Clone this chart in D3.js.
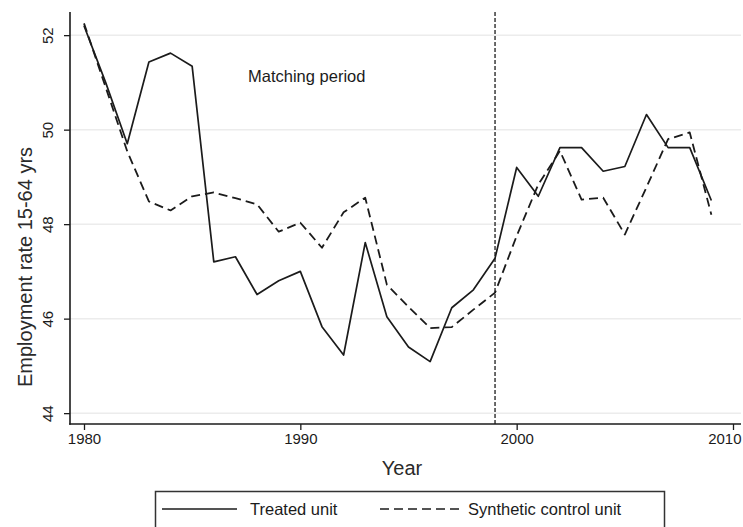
<!DOCTYPE html>
<html>
<head>
<meta charset="utf-8">
<script src="https://cdn.jsdelivr.net/npm/d3@7"></script>
<style>
  html, body { margin: 0; padding: 0; background: #fff; }
  svg { display: block; font-family: "Liberation Sans", Arial, sans-serif; }
</style>
</head>
<body>
<svg id="chart" width="743" height="527"></svg>
<script>
// Employment rate, treated unit vs. synthetic control, 1980-2009
const years = [1980, 1981, 1982, 1983, 1984, 1985, 1986, 1987, 1988, 1989,
               1990, 1991, 1992, 1993, 1994, 1995, 1996, 1997, 1998, 1999,
               2000, 2001, 2002, 2003, 2004, 2005, 2006, 2007, 2008, 2009];
const treated = [52.2, 51.0, 49.7, 51.43, 51.62, 51.34, 47.2, 47.31, 46.51, 46.8,
                 47.0, 45.83, 45.23, 47.61, 46.04, 45.4, 45.09, 46.23, 46.61, 47.28,
                 49.2, 48.59, 49.62, 49.62, 49.12, 49.22, 50.32, 49.62, 49.62, 48.5];
const synthetic = [52.25, 50.9, 49.54, 48.48, 48.29, 48.59, 48.67, 48.55, 48.42, 47.84,
                   48.03, 47.5, 48.25, 48.56, 46.72, 46.25, 45.8, 45.82, 46.19, 46.55,
                   47.75, 48.84, 49.55, 48.52, 48.56, 47.78, 48.78, 49.8, 49.94, 48.2];
const xTicks = [1980, 1990, 2000, 2010];
const yTicks = [44, 46, 48, 50, 52];
const treatmentYear = 1999;
const legendLabels = ["Treated unit", "Synthetic control unit"];

const svg = d3.select("#chart");
const ink = "#1b1b1b";

const x = d3.scaleLinear().domain([1980, 2010]).range([84, 733]);
const y = d3.scaleLinear().domain([43.77, 52.49]).range([424, 12]);
const plotLeft = 70, plotRight = 741, plotTop = 12, plotBottom = 424;

// light horizontal grid
svg.append("g")
  .selectAll("line")
  .data(yTicks)
  .join("line")
  .attr("x1", plotLeft).attr("x2", plotRight)
  .attr("y1", d => y(d)).attr("y2", d => y(d))
  .attr("stroke", "#ececec").attr("stroke-width", 1.5);

// y axis
const yAxis = svg.append("g")
  .attr("transform", `translate(${plotLeft},0)`)
  .call(d3.axisLeft(y).tickValues(yTicks).tickSize(6).tickSizeOuter(0).tickFormat(d3.format("d")));
yAxis.select(".domain").remove();
yAxis.selectAll(".tick line").attr("stroke", ink).attr("stroke-width", 1.3);
yAxis.selectAll(".tick text")
  .attr("fill", ink).attr("font-size", 15)
  .attr("transform", "rotate(-90)")
  .attr("x", 0).attr("y", -17)
  .attr("dy", 0)
  .attr("text-anchor", "middle");
svg.append("line")
  .attr("x1", plotLeft).attr("x2", plotLeft)
  .attr("y1", plotTop).attr("y2", plotBottom + 0.7)
  .attr("stroke", ink).attr("stroke-width", 1.6);

// x axis
const xAxis = svg.append("g")
  .attr("transform", `translate(0,${plotBottom})`)
  .call(d3.axisBottom(x).tickValues(xTicks).tickSize(6).tickSizeOuter(0).tickFormat(d3.format("d")));
xAxis.select(".domain").remove();
xAxis.selectAll(".tick line").attr("stroke", ink).attr("stroke-width", 1.3);
xAxis.selectAll(".tick text")
  .attr("fill", ink).attr("font-size", 15)
  .attr("y", 9).attr("dy", "0.71em");
// keep the last label inside the frame
xAxis.selectAll(".tick text")
  .filter(d => d === xTicks[xTicks.length - 1])
  .attr("text-anchor", "end")
  .attr("x", 8);
svg.append("line")
  .attr("x1", plotLeft - 0.8).attr("x2", plotRight)
  .attr("y1", plotBottom).attr("y2", plotBottom)
  .attr("stroke", ink).attr("stroke-width", 1.6);

// axis titles
svg.append("text")
  .attr("x", 402).attr("y", 475)
  .attr("text-anchor", "middle")
  .attr("font-size", 20).attr("fill", "#2a2a2a")
  .text("Year");
svg.append("text")
  .attr("transform", "translate(32,267) rotate(-90)")
  .attr("text-anchor", "middle")
  .attr("font-size", 20).attr("fill", "#2a2a2a")
  .text("Employment rate 15-64 yrs");

// treatment marker
svg.append("line")
  .attr("x1", x(treatmentYear)).attr("x2", x(treatmentYear))
  .attr("y1", plotTop).attr("y2", plotBottom)
  .attr("stroke", ink).attr("stroke-width", 1.3)
  .attr("stroke-dasharray", "4,2");

svg.append("text")
  .attr("x", 248).attr("y", 82)
  .attr("font-size", 16.5).attr("fill", ink)
  .text("Matching period");

// series
const line = d3.line().x((d, i) => x(years[i])).y(d => y(d));

svg.append("path")
  .datum(synthetic)
  .attr("d", line)
  .attr("fill", "none")
  .attr("stroke", ink).attr("stroke-width", 1.8)
  .attr("stroke-dasharray", "9,5")
  .attr("stroke-linejoin", "round");

svg.append("path")
  .datum(treated)
  .attr("d", line)
  .attr("fill", "none")
  .attr("stroke", ink).attr("stroke-width", 1.7)
  .attr("stroke-linejoin", "round");

// legend
const legend = svg.append("g");
legend.append("rect")
  .attr("x", 155.5).attr("y", 491.5)
  .attr("width", 509).attr("height", 60)
  .attr("fill", "#fff")
  .attr("stroke", "#333").attr("stroke-width", 1.5);

const legendItems = [
  { x1: 162, x2: 237, tx: 250, dash: null, label: legendLabels[0] },
  { x1: 380, x2: 462, tx: 468, dash: "9,5", label: legendLabels[1] }
];
legendItems.forEach(it => {
  legend.append("line")
    .attr("x1", it.x1).attr("x2", it.x2)
    .attr("y1", 509).attr("y2", 509)
    .attr("stroke", ink).attr("stroke-width", 1.6)
    .attr("stroke-dasharray", it.dash);
  legend.append("text")
    .attr("x", it.tx).attr("y", 515)
    .attr("font-size", 16.5).attr("fill", ink)
    .text(it.label);
});
</script>
</body>
</html>
